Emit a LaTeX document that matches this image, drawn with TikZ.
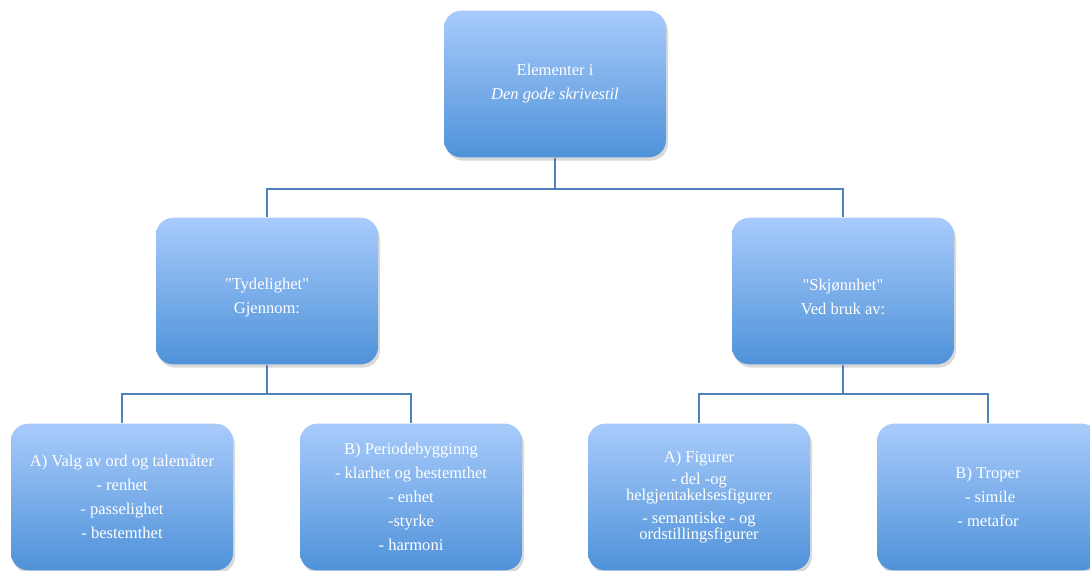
\documentclass[tikz,border=0pt]{standalone}
\usepackage{fontspec}
\setmainfont{Liberation Serif}[Ligatures=TeXOff]
\usetikzlibrary{shadows}
\definecolor{boxtop}{RGB}{168,203,251}
\definecolor{boxbot}{RGB}{79,146,217}
\definecolor{linkblue}{RGB}{79,129,189}
\tikzset{
  sabox/.style={rectangle, rounded corners=13pt, minimum width=166.5pt,
    minimum height=110pt, top color=boxtop, bottom color=boxbot,
    draw=none, text=white, align=center,
    font=\fontsize{12.4}{18}\selectfont,
    drop shadow={opacity=0.3, shadow xshift=1.5pt, shadow yshift=-2.5pt}},
  link/.style={draw=linkblue, line width=1.5pt}
}
\begin{document}
\begin{tikzpicture}[x=0.75pt,y=-0.75pt]
  \useasboundingbox (0,0) rectangle (1090,571);
  % top level
  \node[sabox] (top) at (555,84) {Elementer i\\ \textit{Den gode skrivestil}};
  % second level
  \node[sabox] (tyd) at (267,291) {\mbox{}\\ "Tydelighet"\\ Gjennom:};
  \node[sabox] (skj) at (843,291) {\mbox{}\\ "Skjønnhet"\\ Ved bruk av:};
  % third level
  \node[sabox] (valg) at (122,497) {A) Valg av ord og talemåter\\ - renhet\\ - passelighet\\ - bestemthet};
  \node[sabox] (periode) at (411,497) {B) Periodebygginng\\ - klarhet og bestemthet\\ - enhet\\ -styrke\\ - harmoni};
  \node[sabox] (figurer) at (699,497) {A) Figurer\\[-1pt] - del -og\\[-6pt] helgjentakelsesfigurer\\[-1pt] - semantiske - og\\[-6pt] ordstillingsfigurer};
  \node[sabox] (troper) at (988,497) {B) Troper\\ \ - simile\\ - metafor};
  % connectors
  \draw[link] (top.south) -- ++(0,31) coordinate (j1);
  \draw[link] (j1) -| (tyd.north);
  \draw[link] (j1) -| (skj.north);
  \draw[link] (tyd.south) -- ++(0,29) coordinate (j2);
  \draw[link] (j2) -| (valg.north);
  \draw[link] (j2) -| (periode.north);
  \draw[link] (skj.south) -- ++(0,29) coordinate (j3);
  \draw[link] (j3) -| (figurer.north);
  \draw[link] (j3) -| (troper.north);
\end{tikzpicture}
\end{document}
